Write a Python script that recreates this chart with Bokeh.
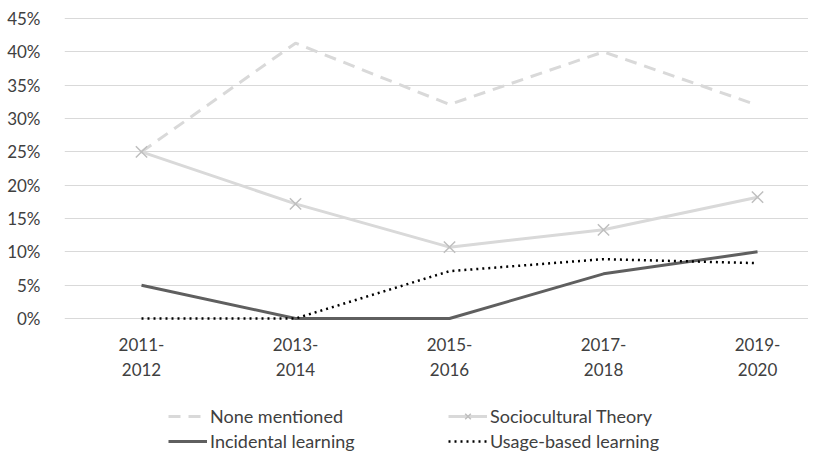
from bokeh.plotting import figure
from bokeh.models import (FixedTicker, Legend, LegendItem, Range1d,
                          PrintfTickFormatter)
from bokeh.core.properties import value
from bokeh.embed import file_html
from bokeh.resources import INLINE

# ---- data ----
period_start = ["2011-", "2013-", "2015-", "2017-", "2019-"]
period_end = ["2012", "2014", "2016", "2018", "2020"]
none_mentioned = [25.0, 41.3, 32.1, 40.0, 32.0]
sociocultural = [25.0, 17.2, 10.7, 13.3, 18.2]
incidental = [5.0, 0.0, 0.0, 6.7, 10.0]
usage_based = [0.0, 0.0, 7.1, 8.9, 8.3]
y_ticks = [0, 5, 10, 15, 20, 25, 30, 35, 40, 45]

x = list(range(len(period_start)))

FONT = "Lato"
FS = "17px"
LFS = "18px"
TXT = "#404040"

p = figure(width=808, height=452, output_backend="svg", toolbar_location=None,
           x_range=Range1d(-0.5, 4.331), y_range=Range1d(-20.1, 45.9),
           min_border_left=64, min_border_right=0, min_border_top=12,
           min_border_bottom=0)
p.outline_line_color = None
p.background_fill_color = "white"
p.border_fill_color = "white"
p.xaxis.visible = False

# y axis
ya = p.yaxis[0]
ya.ticker = FixedTicker(ticks=y_ticks)
ya.formatter = PrintfTickFormatter(format="%d%%")
ya.axis_line_color = None
ya.major_tick_line_color = None
ya.minor_tick_line_color = None
ya.major_label_standoff = 18
ya.major_label_text_font = FONT
ya.major_label_text_font_size = FS
ya.major_label_text_color = TXT

p.xgrid.visible = False
p.ygrid.grid_line_color = "#d9d9d9"
p.ygrid.grid_line_width = 1

# category labels (two lines) below the zero line
zero = [0] * len(x)
p.text(x, zero, text=period_start, y_offset=26, text_align="center",
       text_baseline="middle", text_font=value(FONT), text_font_size=FS,
       text_color=TXT)
p.text(x, zero, text=period_end, y_offset=51, text_align="center",
       text_baseline="middle", text_font=value(FONT), text_font_size=FS,
       text_color=TXT)

# series
r_none = p.line(x, none_mentioned, line_color="#d9d9d9", line_width=3,
                line_dash="12 8")
r_soc = p.line(x, sociocultural, line_color="#d9d9d9", line_width=3)
r_inc = p.line(x, incidental, line_color="#5f5f5f", line_width=3)
r_use = p.line(x, usage_based, line_color="black", line_width=2.5,
               line_dash="2 4")
r_soc_m = p.scatter(x, sociocultural, marker="x", size=16,
                    line_color="#bfbfbf", line_width=1.5)

legend = Legend(items=[
    LegendItem(label="None mentioned", renderers=[r_none]),
    LegendItem(label="Incidental learning", renderers=[r_inc]),
    LegendItem(label="Sociocultural Theory", renderers=[r_soc, r_soc_m]),
    LegendItem(label="Usage-based learning", renderers=[r_use]),
], ncols=2, location=(104, 0), margin=0, padding=0, spacing=3,
    glyph_width=39, glyph_height=20, label_height=20, label_width=235,
    label_standoff=3, border_line_color=None, background_fill_alpha=0,
    label_text_font=FONT, label_text_font_size=LFS, label_text_color=TXT)
p.add_layout(legend, "center")

open("out.html", "w").write(file_html(p, INLINE))
